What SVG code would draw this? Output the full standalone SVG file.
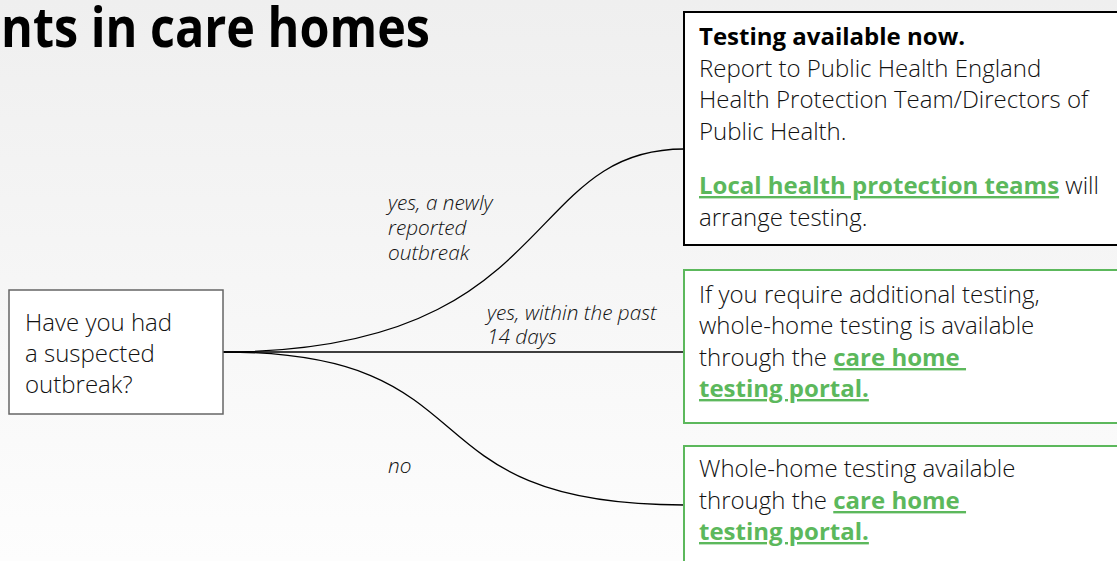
<svg xmlns="http://www.w3.org/2000/svg" width="1117" height="561" viewBox="0 0 1117 561">
<defs>
<linearGradient id="bg" x1="0" y1="0" x2="0" y2="1">
<stop offset="0" stop-color="#efefef"/>
<stop offset="1" stop-color="#fdfdfd"/>
</linearGradient>
</defs>
<style>
text{font-family:"Open Sans","Noto Sans","Liberation Sans",sans-serif;fill:#111}
.title{font-size:55px;font-weight:700;fill:#000}
.body{font-size:24px;font-weight:300}
.lbl{font-size:20.8px;font-style:italic;font-weight:300}
.link{fill:#5cb85c;font-weight:700;text-decoration:underline}
.bold{font-weight:700;fill:#000}
.conn{fill:none;stroke:#000;stroke-width:1.3}
.gbox{fill:#fff;stroke:#5cb85c;stroke-width:2}
</style>
<rect x="0" y="0" width="1117" height="561" fill="url(#bg)"/>
<text class="title" x="1" y="47" textLength="429" lengthAdjust="spacingAndGlyphs">nts in care homes</text>
<g id="connectors">
<path class="conn" d="M223,352 C560,352 520,149 684,149"/>
<path class="conn" d="M223,352 L684,352"/>
<path class="conn" d="M223,352 C500,352 397,505 684,505"/>
<text class="lbl" x="388" y="210">yes, a newly<tspan x="388" dy="25">reported</tspan><tspan x="388" dy="25">outbreak</tspan></text>
<text class="lbl" x="487" y="320">yes, within the past<tspan x="487" dy="24">14 days</tspan></text>
<text class="lbl" x="388" y="473">no</text>
</g>
<g id="question">
<rect x="9" y="290" width="214" height="124" fill="#fff" stroke="#666" stroke-width="1.5"/>
<text class="body" x="25" y="331">Have you had<tspan x="25" dy="31">a suspected</tspan><tspan x="25" dy="31">outbreak?</tspan></text>
</g>
<g id="outbreak-new">
<rect x="684" y="12" width="445" height="233" fill="#fff" stroke="#000" stroke-width="2"/>
<text class="body" x="699" y="45"><tspan class="bold">Testing available now.</tspan><tspan x="699" dy="32">Report to Public Health England</tspan><tspan x="699" dy="31">Health Protection Team/Directors of</tspan><tspan x="699" dy="32">Public Health.</tspan></text>
<text class="body" x="699" y="194"><tspan class="link">Local health protection teams</tspan> will<tspan x="699" dy="32">arrange testing.</tspan></text>
</g>
<g id="outbreak-14days">
<rect class="gbox" x="684" y="270" width="445" height="153"/>
<text class="body" x="699" y="303" xml:space="preserve">If you require additional testing,<tspan x="699" dy="31">whole-home testing is available</tspan><tspan x="699" dy="32">through the </tspan><tspan class="link">care home </tspan><tspan class="link" x="699" dy="31">testing portal.</tspan></text>
</g>
<g id="no-outbreak">
<rect class="gbox" x="684" y="446" width="445" height="130"/>
<text class="body" x="699" y="477" xml:space="preserve">Whole-home testing available<tspan x="699" dy="32">through the </tspan><tspan class="link">care home </tspan><tspan class="link" x="699" dy="31">testing portal.</tspan></text>
</g>
</svg>
